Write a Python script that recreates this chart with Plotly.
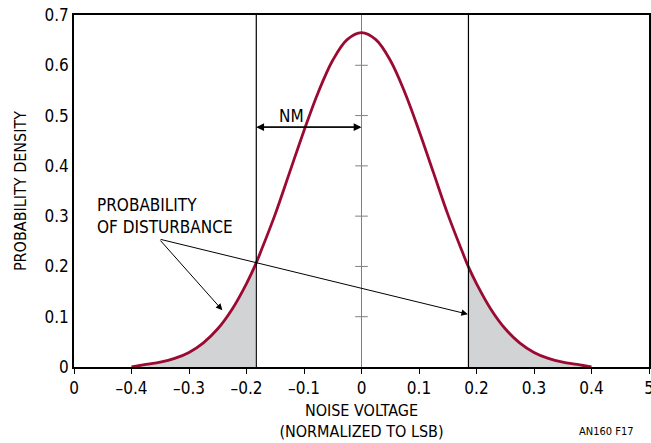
import plotly.graph_objects as go

# Curve (noise voltage, probability density)
noise_v = [-0.4, -0.375, -0.35, -0.325, -0.3, -0.275, -0.25, -0.225, -0.2, -0.185, -0.175, -0.15,
           -0.125, -0.1, -0.075, -0.05, -0.025, 0.0, 0.025, 0.05, 0.075, 0.1, 0.125, 0.15, 0.175,
           0.186, 0.2, 0.225, 0.25, 0.275, 0.3, 0.325, 0.35, 0.375, 0.4]
density = [0.0, 0.005, 0.0095, 0.017, 0.029, 0.048, 0.076, 0.115, 0.166, 0.202, 0.23, 0.304,
           0.387, 0.47, 0.547, 0.61, 0.651, 0.665, 0.651, 0.61, 0.547, 0.47, 0.387, 0.304, 0.23,
           0.199, 0.166, 0.115, 0.076, 0.048, 0.029, 0.017, 0.0095, 0.005, 0.0]

nm_left = -0.183
nm_right = 0.186
x_tickvals = [-0.5, -0.4, -0.3, -0.2, -0.1, 0.0, 0.1, 0.2, 0.3, 0.4, 0.5]
x_ticktext = ["0", "–0.4", "–0.3", "–0.2", "–0.1", "0", "0.1", "0.2", "0.3", "0.4", "5"]
y_tickvals = [0, 0.1, 0.2, 0.3, 0.4, 0.5, 0.6, 0.7]
y_ticktext = ["0", "0.1", "0.2", "0.3", "0.4", "0.5", "0.6", "0.7"]
center_ticks = [0.1, 0.2, 0.3, 0.4, 0.5, 0.6]

FONT = "DejaVu Sans Condensed, Liberation Sans Narrow, Arial Narrow, sans-serif"
CURVE = "#9b0a33"
FILL = "#d1d3d4"

left_x = [v for v in noise_v if v <= nm_left + 0.003]
left_y = [d for v, d in zip(noise_v, density) if v <= nm_left + 0.003]
right_x = [v for v in noise_v if v >= nm_right]
right_y = [d for v, d in zip(noise_v, density) if v >= nm_right]

fig = go.Figure()
fig.add_trace(go.Scatter(x=left_x, y=left_y, fill="tozeroy", fillcolor=FILL,
                         line=dict(width=0), mode="lines", hoverinfo="skip"))
fig.add_trace(go.Scatter(x=right_x, y=right_y, fill="tozeroy", fillcolor=FILL,
                         line=dict(width=0), mode="lines", hoverinfo="skip"))
fig.add_trace(go.Scatter(x=[0] * len(center_ticks), y=center_ticks, mode="markers",
                         marker=dict(symbol="line-ew", size=9, line=dict(color="#808080", width=1))))
fig.add_trace(go.Scatter(x=noise_v, y=density, mode="lines", line=dict(color=CURVE, width=2.8, shape="spline")))

for xv in (nm_left, nm_right):
    fig.add_vline(x=xv, line=dict(color="black", width=1.2))

# NM double arrow
fig.add_annotation(x=nm_left, y=0.477, ax=0.0, ay=0.477, xref="x", yref="y", axref="x", ayref="y",
                   showarrow=True, arrowhead=2, arrowsize=1.3, arrowwidth=1.2, arrowcolor="black", text="")
fig.add_annotation(x=0.0, y=0.477, ax=nm_left, ay=0.477, xref="x", yref="y", axref="x", ayref="y",
                   showarrow=True, arrowhead=2, arrowsize=1.3, arrowwidth=1.2, arrowcolor="black", text="")
fig.add_annotation(x=-0.122, y=0.5, text="NM", showarrow=False, font=dict(family=FONT, size=17, color="black"))

# Probability of disturbance
fig.add_annotation(x=-0.463, y=0.3, text="PROBABILITY<br>OF DISTURBANCE", showarrow=False, align="left",
                   xanchor="left", yanchor="middle", font=dict(family=FONT, size=17, color="black"))
for tip_x, tip_y in ((-0.242, 0.113), (0.185, 0.105)):
    fig.add_annotation(x=tip_x, y=tip_y, ax=-0.352, ay=0.2545, xref="x", yref="y", axref="x", ayref="y",
                       showarrow=True, arrowhead=2, arrowsize=1.3, arrowwidth=1, arrowcolor="black", text="")

fig.add_annotation(x=0.975, y=-0.16, xref="paper", yref="paper", text="AN160 F17", showarrow=False,
                   xanchor="right", yanchor="top", font=dict(family=FONT, size=11, color="black"))

fig.update_layout(
    width=651, height=443, showlegend=False,
    margin=dict(l=74, r=2, t=15, b=76, autoexpand=False),
    paper_bgcolor="white", plot_bgcolor="white",
    font=dict(family=FONT, size=17, color="black"),
)
fig.update_xaxes(range=[-0.5, 0.5], tickvals=x_tickvals, ticktext=x_ticktext, ticks="outside", ticklen=5,
                 tickcolor="black", showgrid=False, zeroline=True, zerolinecolor="#808080", zerolinewidth=1,
                 showline=True, linecolor="black", linewidth=1.5, mirror=True, ticklabeloverflow="allow",
                 automargin=False,
                 title=dict(text="NOISE VOLTAGE<br>(NORMALIZED TO LSB)", font=dict(size=16), standoff=8))
fig.update_yaxes(range=[0, 0.7], tickvals=y_tickvals, ticktext=y_ticktext, ticks="", showgrid=False,
                 zeroline=False, showline=True, linecolor="black", linewidth=1.5, mirror=True,
                 automargin=False,
                 title=dict(text="PROBABILITY DENSITY", font=dict(size=16), standoff=14))

fig.write_html("out.html")
